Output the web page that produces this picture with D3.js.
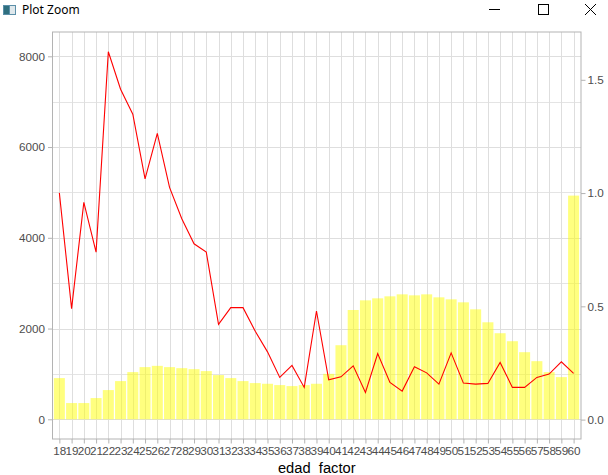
<!DOCTYPE html>
<html><head><meta charset="utf-8">
<script src="https://cdn.jsdelivr.net/npm/d3@7"></script>
<style>body{margin:0;background:#fff;} svg{display:block;}</style>
</head><body>
<script>
const categories = ["18","19","20","21","22","23","24","25","26","27","28","29","30","31","32","33","34","35","36","37","38","39","40","41","42","43","44","45","46","47","48","49","50","51","52","53","54","55","56","57","58","59","60"];
const barValues = [908,358,358,468,644,842,1040,1150,1178,1150,1127,1105,1062,974,908,842,798,783,754,732,754,783,1002,1633,2409,2622,2666,2710,2754,2732,2754,2688,2644,2578,2424,2138,1897,1721,1479,1281,1040,930,4930];
const lineValues = [4989,2440,4782,3684,8101,7275,6725,5297,6300,5112,4420,3868,3684,2094,2461,2461,1941,1486,923,1187,703,2387,870,936,1178,593,1450,813,622,1156,1024,776,1464,798,776,791,1253,703,703,923,996,1266,1011];
const leftTicks = [0,2000,4000,6000,8000];
const leftMinor = [1000,3000,5000,7000];
const rightTicks = [0,0.5,1.0,1.5];
const xTitle = "edad_factor";
const windowTitle = "Plot Zoom";

const W = 608, H = 475;
const svg = d3.select("body").append("svg").attr("width", W).attr("height", H);
const font = "'Liberation Sans', Arial, sans-serif";

// window title bar
const tb = svg.append("g");
tb.append("rect").attr("x",3).attr("y",5).attr("width",13).attr("height",10).attr("fill","#5b8fa8");
tb.append("rect").attr("x",4).attr("y",6).attr("width",5).attr("height",8).attr("fill","#2f6f7f");
tb.append("rect").attr("x",10).attr("y",6).attr("width",5).attr("height",8).attr("fill","#dfe8ec");
tb.append("text").attr("x",22).attr("y",14).attr("font-family","'Noto Sans', 'Open Sans', sans-serif").attr("font-size",12).attr("fill","#000").text(windowTitle);
tb.append("line").attr("x1",489).attr("x2",500).attr("y1",9.5).attr("y2",9.5).attr("stroke","#000").attr("stroke-width",1);
tb.append("rect").attr("x",538.5).attr("y",4.5).attr("width",10).attr("height",10).attr("fill","none").attr("stroke","#000").attr("stroke-width",1);
tb.append("line").attr("x1",585).attr("x2",596).attr("y1",4).attr("y2",15).attr("stroke","#000").attr("stroke-width",1);
tb.append("line").attr("x1",596).attr("x2",585).attr("y1",4).attr("y2",15).attr("stroke","#000").attr("stroke-width",1);

const panel = {left:52.5, right:581, top:32, bottom:439};
const x = d3.scalePoint().domain(categories).range([59.35, 573.6]);
const step = x.step();
const y = d3.scaleLinear().domain([0,8000]).range([419.3, 56.3]);
const yR = d3.scaleLinear().domain([0,1.5]).range([419.6, 79.8]);

// grid
const g = svg.append("g");
g.selectAll(".minor").data(leftMinor).join("line")
  .attr("x1",panel.left).attr("x2",panel.right)
  .attr("y1",d=>Math.round(y(d))+0.5).attr("y2",d=>Math.round(y(d))+0.5)
  .attr("stroke","#e4e4e4").attr("stroke-width",1);
g.selectAll(".major").data(leftTicks).join("line")
  .attr("x1",panel.left).attr("x2",panel.right)
  .attr("y1",d=>Math.round(y(d))+0.5).attr("y2",d=>Math.round(y(d))+0.5)
  .attr("stroke","#dedede").attr("stroke-width",1);
g.selectAll(".vg").data(categories).join("line")
  .attr("y1",panel.top).attr("y2",panel.bottom)
  .attr("x1",d=>Math.round(x(d))+0.5).attr("x2",d=>Math.round(x(d))+0.5)
  .attr("stroke","#dedede").attr("stroke-width",1);

// bars
const bw = step*0.9;
svg.append("g").selectAll("rect").data(categories).join("rect")
  .attr("x",(d)=>x(d)-bw/2).attr("width",bw)
  .attr("y",(d,i)=>y(barValues[i])).attr("height",(d,i)=>y(0)-y(barValues[i]))
  .attr("fill","#ffff00").attr("fill-opacity",0.5);

// line
const line = d3.line().x((d,i)=>x(categories[i])).y(d=>y(d));
svg.append("path").datum(lineValues).attr("d",line)
  .attr("fill","none").attr("stroke","#ff0000").attr("stroke-width",1.1);

// panel border
svg.append("rect").attr("x",panel.left).attr("y",panel.top)
  .attr("width",panel.right-panel.left).attr("height",panel.bottom-panel.top)
  .attr("fill","none").attr("stroke","#b3b3b3").attr("stroke-width",1);

// axes
function styleAxis(sel){
  sel.select(".domain").remove();
  sel.selectAll(".tick line").attr("stroke","#b3b3b3");
  sel.selectAll(".tick text").attr("fill","#4d4d4d").attr("font-family",font).attr("font-size","11.7px");
}
svg.append("g").attr("transform",`translate(${panel.left},0)`)
  .call(d3.axisLeft(y).tickValues(leftTicks).tickSize(4.5).tickPadding(3).tickFormat(d3.format("d")))
  .call(styleAxis);
svg.append("g").attr("transform",`translate(${panel.right},0)`)
  .call(d3.axisRight(yR).tickValues(rightTicks).tickSize(4.5).tickPadding(2).tickFormat(d3.format(".1f")))
  .call(styleAxis);
svg.append("g").attr("transform",`translate(0,${panel.bottom})`)
  .call(d3.axisBottom(x).tickSize(4.5).tickPadding(3))
  .call(styleAxis);

svg.append("text").attr("x",(panel.left+panel.right)/2).attr("y",472.5)
  .attr("text-anchor","middle").attr("font-family",font).attr("font-size","14.7px").attr("fill","#000")
  .text(xTitle);
</script>
</body></html>
